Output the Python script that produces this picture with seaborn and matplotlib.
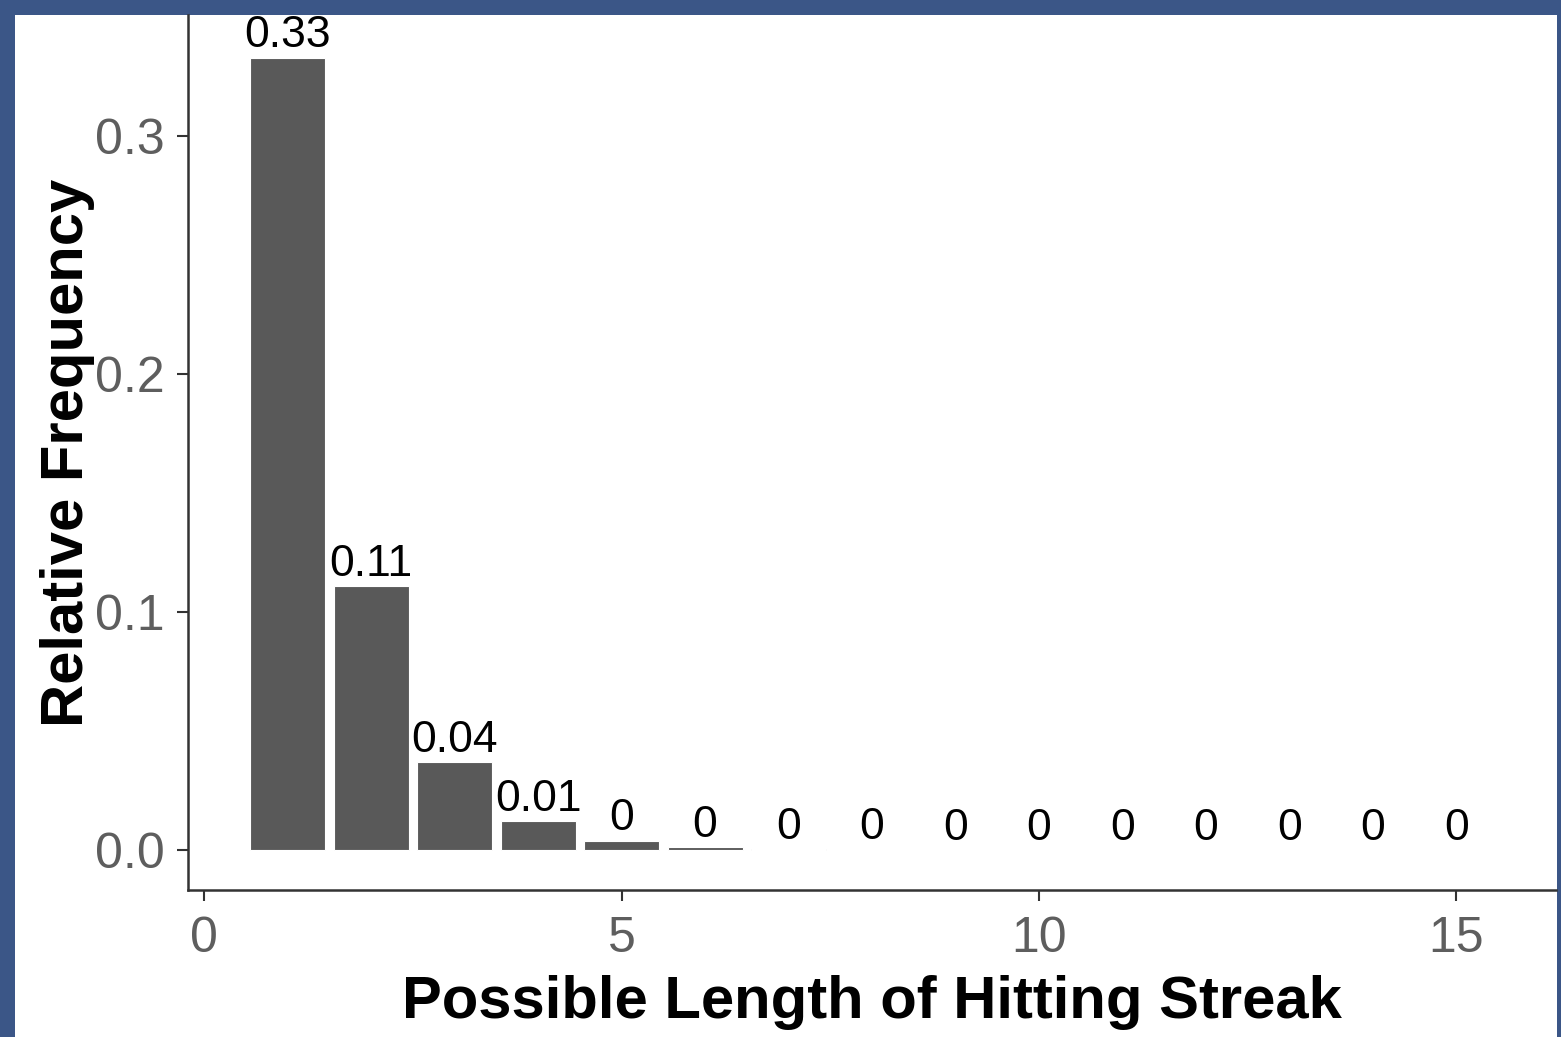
import matplotlib
matplotlib.use("Agg")
import matplotlib.pyplot as plt
import seaborn as sns
import pandas as pd
from matplotlib.patches import Rectangle

# streak length vs relative frequency
streak_length = [1, 2, 3, 4, 5, 6, 7, 8, 9, 10, 11, 12, 13, 14, 15]
rel_freq = [0.333, 0.111, 0.037, 0.0123, 0.0041, 0.0014, 0.0005, 0.0002,
            0.0001, 0.0, 0.0, 0.0, 0.0, 0.0, 0.0]
x_ticks = [0, 5, 10, 15]
y_ticks = [0.0, 0.1, 0.2, 0.3]

df = pd.DataFrame({"length": streak_length, "freq": rel_freq})

sns.set_theme(style="white")
plt.rcParams["font.family"] = ["Liberation Sans", "DejaVu Sans"]

fig = plt.figure(figsize=(15.61, 10.37), dpi=100)
fig.patch.set_facecolor("#3b5687")
# white panel inside the blue frame (drawn behind the axes)
fig.patches.append(Rectangle((15 / 1561, 0), (1557 - 15) / 1561, (1037 - 15) / 1037,
                             transform=fig.transFigure, facecolor="white",
                             edgecolor="none", zorder=-1))

ax = fig.add_axes([188 / 1561, 147 / 1037, (1556 - 188) / 1561, (1022 - 147) / 1037])
ax.set_facecolor("white")

sns.barplot(data=df, x="length", y="freq", native_scale=True, width=0.9,
            color="#595959", saturation=1, edgecolor="white", linewidth=0.8, ax=ax)

labels = [f"{round(v, 2):g}" for v in rel_freq]
ax.bar_label(ax.containers[0], labels=labels, fontsize=32, color="black", padding=1)

ax.set_xlim(-0.195, 16.195)
ax.set_ylim(-0.0167, 0.351)
ax.set_xticks(x_ticks)
ax.set_xticklabels([str(t) for t in x_ticks])
ax.set_yticks(y_ticks)
ax.set_yticklabels([f"{t:.1f}" for t in y_ticks])

ax.tick_params(axis="both", labelsize=36, labelcolor="#5e5e5e", color="#333333",
               length=8, width=1.5, direction="out", bottom=True, left=True)
ax.tick_params(axis="x", pad=11)
ax.tick_params(axis="y", pad=9)

for side in ["top", "right"]:
    ax.spines[side].set_visible(False)
for side in ["left", "bottom"]:
    ax.spines[side].set_color("#333333")
    ax.spines[side].set_linewidth(1.8)

ax.set_xlabel("Possible Length of Hitting Streak", fontsize=43, fontweight="bold",
              color="black", labelpad=9)
ax.set_ylabel("Relative Frequency", fontsize=43, fontweight="bold",
              color="black", labelpad=0)

fig.savefig("out.png", dpi=100, facecolor=fig.get_facecolor())
